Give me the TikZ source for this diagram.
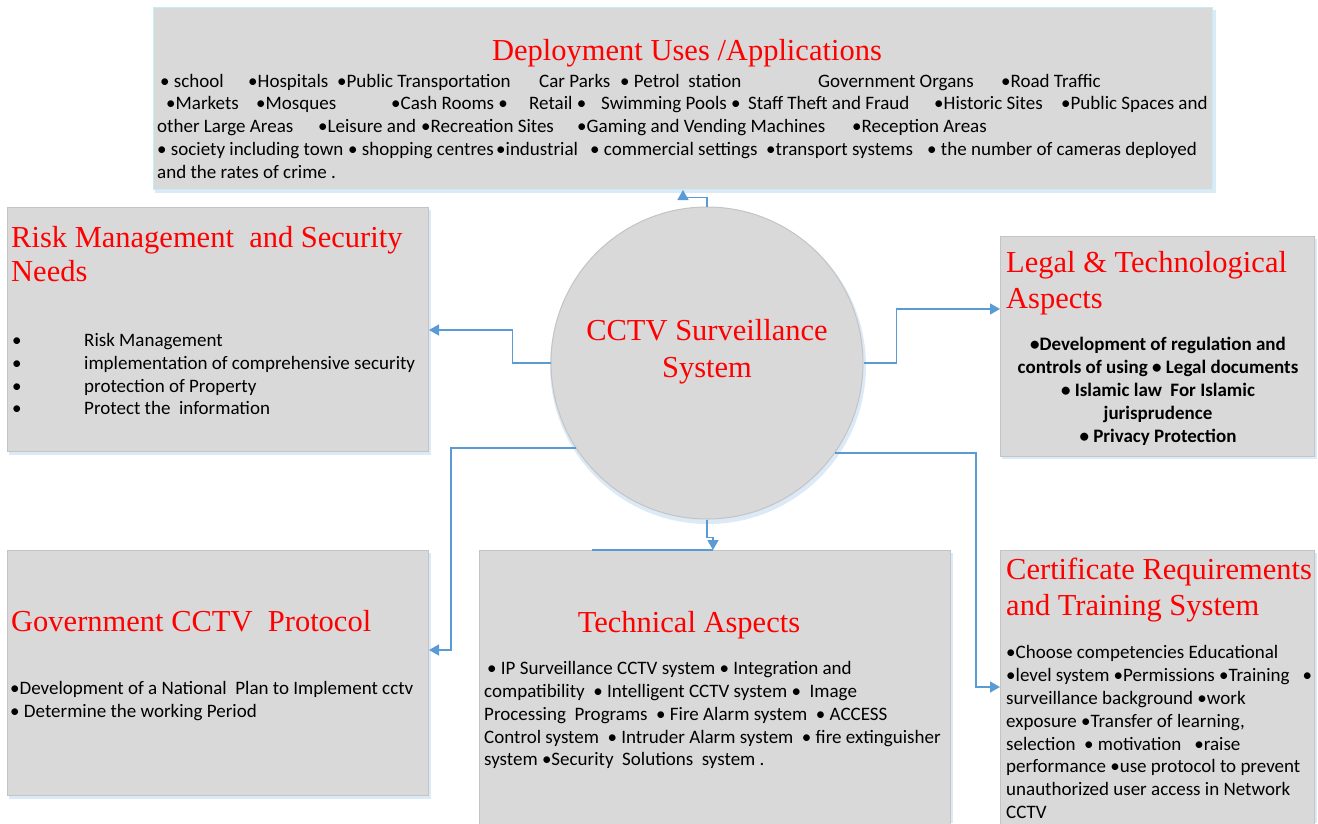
\documentclass[tikz,border=0pt]{standalone}
\usepackage{fontspec}
\setmainfont{Carlito}
\newfontfamily\titlefont{Liberation Serif}
\usetikzlibrary{arrows.meta}
\definecolor{boxfill}{HTML}{D9D9D9}
\definecolor{boxline}{HTML}{C4C4C4}
\definecolor{topline}{HTML}{C4EEF6}
\definecolor{glow}{HTML}{DCE9F6}
\definecolor{lineblue}{HTML}{5B9BD5}
\definecolor{titlered}{HTML}{FF0000}
\tikzset{
  box/.style={draw=boxline, fill=boxfill, line width=1pt, inner sep=0pt, anchor=north west},
  ttl/.style={font=\titlefont\fontsize{30.5}{35}\selectfont, text=titlered, inner sep=0pt},
  body/.style={font=\fontsize{19}{23}\selectfont, inner sep=0pt, anchor=base west},
  bodyc/.style={font=\bfseries\fontsize{19}{23}\selectfont, inner sep=0pt, anchor=base},
  conn/.style={draw=lineblue, line width=1.5pt, -{Triangle[length=10pt,width=11pt]}},
  connline/.style={draw=lineblue, line width=1.5pt},
}
\begin{document}
\begin{tikzpicture}[x=1pt,y=-1pt]
\useasboundingbox (0,0) rectangle (1318,823);
% glow / shadows
\fill[glow] (155,10) rectangle (1216,193);
\fill[glow] (9,210) rectangle (431,455);
\fill[glow] (1002,239) rectangle (1317,459);
\fill[glow] (9,553) rectangle (431,799);
\fill[glow] (481,553) rectangle (953,823);
\fill[glow] (1002,553) rectangle (1317,823);
% boxes
\node[box, draw=topline, minimum width=1059pt, minimum height=182pt] (top) at (153,7) {};
\node[box, minimum width=421pt, minimum height=244pt] (risk) at (7,207) {};
\node[box, minimum width=314pt, minimum height=220pt] (legal) at (1000,236) {};
\node[box, minimum width=421pt, minimum height=245pt] (gov) at (7,550) {};
\node[box, minimum width=471pt, minimum height=280pt] (tech) at (479,550) {};
\node[box, minimum width=314pt, minimum height=280pt] (cert) at (1000,550) {};
% circle
\fill[glow] (708,366) circle (158);
\node[circle, draw=boxline, fill=boxfill, line width=1pt, minimum size=312pt, inner sep=0pt] (c) at (707,363) {};

% top box text
\node[ttl, anchor=base] (topT) at (687,60) {Deployment Uses /Applications};
\node[body] (l1a) at (160,87) {• school};
\node[body] (l1b) at (248,87) {•Hospitals};
\node[body] (l1c) at (337,87) {•Public Transportation};
\node[body] (l1d) at (539,87) {Car Parks};
\node[body] (l1e) at (620,87) {• Petrol\ \ station};
\node[body] (l1f) at (818,87) {Government Organs};
\node[body] (l1g) at (1001,87) {•Road Traffic};
\node[body] (l2a) at (166,109) {•Markets};
\node[body] (l2b) at (256,109) {•Mosques};
\node[body] (l2c) at (391,109) {•Cash Rooms •};
\node[body] (l2d) at (529,109) {Retail •};
\node[body] (l2e) at (601,109) {Swimming Pools •};
\node[body] (l2f) at (748,109) {Staff Theft and Fraud};
\node[body] (l2g) at (934,109) {•Historic Sites};
\node[body] (l2h) at (1061,109) {•Public Spaces and};
\node[body] (l3a) at (157,132) {other Large Areas};
\node[body] (l3b) at (318,132) {•Leisure and};
\node[body] (l3c) at (421,132) {•Recreation Sites};
\node[body] (l3d) at (577,132) {•Gaming and Vending Machines};
\node[body] (l3e) at (852,132) {•Reception Areas};
\node[body] (l4a) at (157,155) {• society including town};
\node[body] (l4b) at (348,155) {• shopping centres};
\node[body] (l4c) at (496,155) {•industrial};
\node[body] (l4d) at (590,155) {• commercial settings};
\node[body] (l4e) at (766,155) {•transport systems};
\node[body] (l4f) at (927,155) {• the number of cameras deployed};
\node[body] (l5a) at (157,178) {and the rates of crime .};

% risk box
\node[ttl, anchor=base west] (riskT1) at (11,247) {Risk Management\ \ and Security};
\node[ttl, anchor=base west] (riskT2) at (11,281) {Needs};
\foreach \y/\t [count=\i] in {346/Risk Management, 369/implementation of comprehensive security, 392/protection of Property, 414/Protect the\ \ information}{
  \node[body] (rb\i) at (12,\y) {•};
  \node[body] (rt\i) at (84,\y) {\t};
}

% circle text
\node[ttl, anchor=base] (cT1) at (707,340) {CCTV Surveillance};
\node[ttl, anchor=base] (cT2) at (707,377) {System};

% legal box
\node[ttl, anchor=base west] (legalT1) at (1006,272) {Legal \& Technological};
\node[ttl, anchor=base west] (legalT2) at (1006,308) {Aspects};
\node[bodyc] (lg1) at (1158,350) {•Development of regulation and};
\node[bodyc] (lg2) at (1158,373) {controls of using • Legal documents};
\node[bodyc] (lg3) at (1158,396) {• Islamic law\ \ For Islamic};
\node[bodyc] (lg4) at (1158,419) {jurisprudence};
\node[bodyc] (lg5) at (1158,442) {• Privacy Protection};

% government box
\node[ttl, anchor=base west] (govT) at (11,631) {Government CCTV\ \ Protocol};
\node[body] (gv1) at (10,694) {•Development of a National\ \ Plan to Implement cctv};
\node[body] (gv2) at (10,717) {• Determine the working Period};

% technical box
\node[ttl, anchor=base] (techT) at (689,632) {Technical Aspects};
\node[body] (tc1) at (487,674) {• IP Surveillance CCTV system • Integration and};
\node[body] (tc2) at (484,697) {compatibility\ \ • Intelligent CCTV system •\ \ Image};
\node[body] (tc3) at (484,720) {Processing\ \ Programs\ \ • Fire Alarm system\ \ • ACCESS};
\node[body] (tc4) at (484,743) {Control system\ \ • Intruder Alarm system\ \ • fire extinguisher};
\node[body] (tc5) at (484,765) {system •Security\ \ Solutions\ \ system .};

% certificate box
\node[ttl, anchor=base west] (certT1) at (1006,579) {Certificate Requirements};
\node[ttl, anchor=base west] (certT2) at (1006,615) {and Training System};
\node[body] (ct1) at (1006,658) {•Choose competencies Educational};
\node[body] (ct2) at (1006,681) {•level system •Permissions •Training\ \ \ •};
\node[body] (ct3) at (1006,704) {surveillance background •work};
\node[body] (ct4) at (1006,727) {exposure •Transfer of learning,};
\node[body] (ct5) at (1006,750) {selection\ \ • motivation\ \ \ •raise};
\node[body] (ct6) at (1006,772) {performance •use protocol to prevent};
\node[body] (ct7) at (1006,795) {unauthorized user access in Network};
\node[body] (ct8) at (1006,818) {CCTV};

% connectors
\coordinate (a1) at (top.south -| 683,0);
\coordinate (a2) at (risk.east |- 0,330);
\coordinate (a3) at (legal.west |- 0,309);
\coordinate (a4) at (gov.east |- 0,650);
\coordinate (a5) at (tech.north -| 713,0);
\coordinate (a6) at (cert.west |- 0,687);
\coordinate (t0) at (tech.north -| 592,0);
\draw[conn] (c.north) -- ++(0,-9) -| (a1);
\draw[conn] (c.west) -- ++(-38,0) |- (a2);
\draw[conn] (c.east) -- ++(33,0) |- (a3);
\draw[conn] (c.213) -- ++(-125,0) |- (a4);
\draw[connline] (t0) -- (a5);
\draw[conn] (c.south) -- ++(0,18) -- ++(6,0) -- (a5);
\draw[conn] (c.325) -- ++(141,0) |- (a6);
\end{tikzpicture}
\end{document}
